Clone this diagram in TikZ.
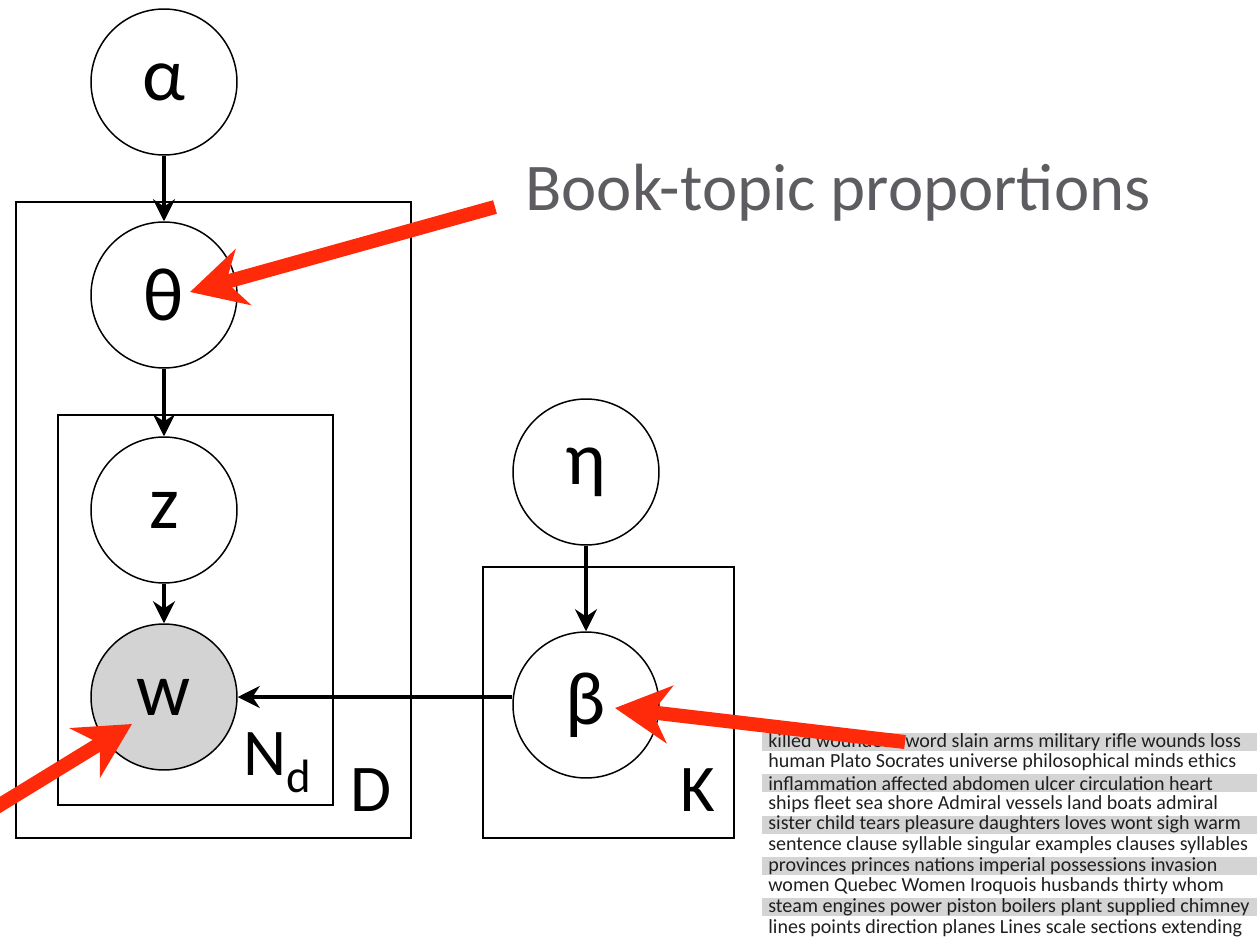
\documentclass[tikz,border=0pt]{standalone}
\usepackage{fontspec}
\setmainfont{Carlito}
\usetikzlibrary{arrows.meta,positioning}
\definecolor{callred}{HTML}{FF2A0A}
\definecolor{captiongray}{HTML}{5E5C60}
\definecolor{obsgray}{HTML}{D3D3D3}
\definecolor{bargray}{HTML}{D4D4D4}

\begin{document}
\begin{tikzpicture}[x=0.02cm,y=-0.02cm,
    latent/.style={circle,draw,line width=0.85pt,minimum size=2.92cm,inner sep=0pt,font=\fontsize{43}{45}\selectfont},
    obs/.style={latent,fill=obsgray},
    plate/.style={draw,line width=0.85pt},
    edge/.style={-{Stealth[length=0.44cm,width=0.44cm]},line width=2.3pt},
    callout/.style={callred,line width=8pt,-{Stealth[length=1.1cm,width=1.15cm,inset=0.35cm]}},
    platelabel/.style={inner sep=0pt,font=\fontsize{38}{40}\selectfont},
    wordline/.style={anchor=west,inner sep=0pt,font=\fontsize{11.4}{12}\selectfont,text=black!88}]
    \useasboundingbox (0,0) rectangle (1259,937);
    % plates
    \draw[plate] (16,202) rectangle (411,838);
    \draw[plate] (58,415) rectangle (333,805);
    \draw[plate] (483,567) rectangle (734,838);
    \node[platelabel] (labD) at (371,790) {D};
    \node[platelabel] (labN) at (278,763) {N\textsubscript{d}};
    \node[platelabel] (labK) at (698,790) {K};
    % variables
    \node[latent] (alpha) at (164,82) {α};
    \node[latent] (theta) at (164,295) {θ};
    \node[latent] (z) at (164,510) {z};
    \node[obs] (w) at (164,697) {w};
    \node[latent] (eta) at (586,472) {η};
    \node[latent] (beta) at (586,705) {β};
    \draw[edge] (alpha) -- (theta);
    \draw[edge] (theta) -- (z);
    \draw[edge] (z) -- (w);
    \draw[edge] (eta) -- (beta);
    \draw[edge] (beta.west |- w.east) -- (w.east);
    % topics
    \foreach \words [count=\i from 0] in {
        killed wounded sword slain arms military rifle wounds loss,
        human Plato Socrates universe philosophical minds ethics,
        inflammation affected abdomen ulcer circulation heart,
        ships fleet sea shore Admiral vessels land boats admiral,
        sister child tears pleasure daughters loves wont sigh warm,
        sentence clause syllable singular examples clauses syllables,
        provinces princes nations imperial possessions invasion,
        women Quebec Women Iroquois husbands thirty whom,
        steam engines power piston boilers plant supplied chimney,
        lines points direction planes Lines scale sections extending} {
        \ifodd\i\else
            \fill[bargray] (762,742+20.65*\i-9) rectangle (1257,742+20.65*\i+9);
        \fi
        \node[wordline] (topic\i) at (768,742+20.65*\i) {\words};
    }
    % callouts
    \node[text=captiongray,font=\fontsize{38}{40}\selectfont] (bookprop) at (838,193) {Book-topic proportions};
    \coordinate (bookstart) at (495,207);
    \coordinate (thetatip) at (190,292);
    \coordinate (betastart) at (905,742);
    \coordinate (betatip) at (615,708);
    \coordinate (wstart) at (-5,808);
    \coordinate (wtip) at (132,724);
    \draw[callout] (bookstart) -- (thetatip);
    \draw[callout] (betastart) -- (betatip);
    \draw[callout] (wstart) -- (wtip);
\end{tikzpicture}
\end{document}
